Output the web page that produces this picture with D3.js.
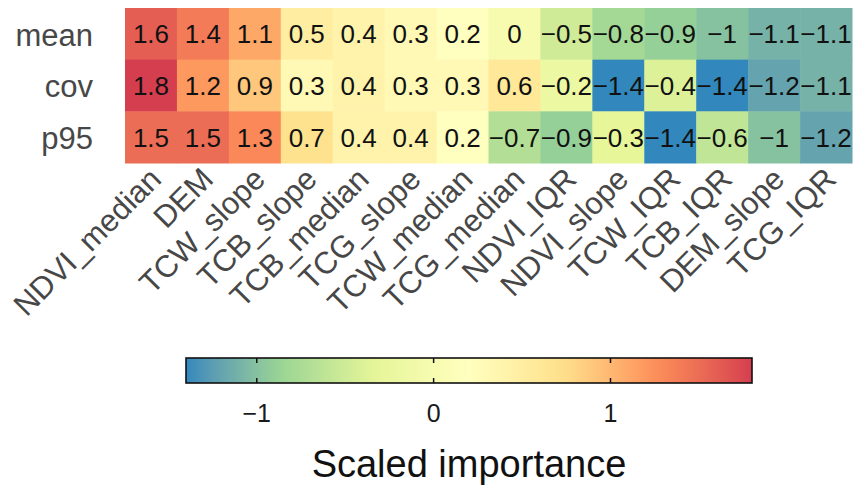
<!DOCTYPE html>
<html>
<head>
<meta charset="utf-8">
<script src="https://cdn.jsdelivr.net/npm/d3@7"></script>
<style>
  body { margin: 0; background: #fff; }
  svg { display: block; font-family: "Liberation Sans", Arial, sans-serif; }
</style>
</head>
<body>
<svg id="chart" width="856" height="486"></svg>
<script>
const features = ["NDVI_median", "DEM", "TCW_slope", "TCB_slope", "TCB_median", "TCG_slope", "TCW_median",
  "TCG_median", "NDVI_IQR", "NDVI_slope", "TCW_IQR", "TCB_IQR", "DEM_slope", "TCG_IQR"];
const stats = ["mean", "cov", "p95"];
const meanValues = [1.6, 1.4, 1.1, 0.5, 0.4, 0.3, 0.2, 0, -0.5, -0.8, -0.9, -1, -1.1, -1.1];
const covValues = [1.8, 1.2, 0.9, 0.3, 0.4, 0.3, 0.3, 0.6, -0.2, -1.4, -0.4, -1.4, -1.2, -1.1];
const p95Values = [1.5, 1.5, 1.3, 0.7, 0.4, 0.4, 0.2, -0.7, -0.9, -0.3, -1.4, -0.6, -1, -1.2];
const colorbarTicks = [-1, 0, 1];
const legendTitle = "Scaled importance";
// Spectral (7 class), low -> high
const palette = ["#3288bd", "#99d594", "#e6f598", "#ffffbf", "#fee08b", "#fc8d59", "#d53e4f"];

const valuesByStat = { mean: meanValues, cov: covValues, p95: p95Values };
const cells = stats.flatMap((s) => features.map((f, i) => ({ stat: s, feature: f, value: valuesByStat[s][i] })));

const svg = d3.select("#chart");
const axisColor = "#474747";

const x = d3.scaleBand().domain(features).range([125, 852]);
const y = d3.scaleBand().domain(stats).range([8, 163]);

const [vmin, vmax] = d3.extent(cells, (d) => d.value);
const color = d3
  .scaleLinear()
  .domain(palette.map((_, i) => vmin + (i * (vmax - vmin)) / (palette.length - 1)))
  .range(palette)
  .interpolate(d3.interpolateLab);

const fmt = (v) => (v < 0 ? "\u2212" : "") + String(Math.abs(v));

// tiles
svg
  .append("g")
  .selectAll("rect")
  .data(cells)
  .join("rect")
  .attr("x", (d) => x(d.feature))
  .attr("y", (d) => y(d.stat))
  .attr("width", x.bandwidth() + 0.5)
  .attr("height", y.bandwidth() + 0.5)
  .attr("fill", (d) => color(d.value));

svg
  .append("g")
  .selectAll("text")
  .data(cells)
  .join("text")
  .attr("x", (d) => x(d.feature) + x.bandwidth() / 2)
  .attr("y", (d) => y(d.stat) + y.bandwidth() / 2)
  .attr("dy", "0.36em")
  .attr("text-anchor", "middle")
  .attr("font-size", 26)
  .attr("fill", "#111")
  .text((d) => fmt(d.value));

// y axis labels
svg
  .append("g")
  .selectAll("text")
  .data(stats)
  .join("text")
  .attr("x", 93)
  .attr("y", (d) => y(d) + y.bandwidth() / 2)
  .attr("dy", "0.38em")
  .attr("text-anchor", "end")
  .attr("font-size", 31)
  .attr("fill", axisColor)
  .text((d) => d);

// x axis labels, rotated 45
svg
  .append("g")
  .selectAll("text")
  .data(features)
  .join("text")
  .attr("transform", (d) => `translate(${x(d) + x.bandwidth() / 2 + 12},181) rotate(-45)`)
  .attr("text-anchor", "end")
  .attr("font-size", 31)
  .attr("fill", axisColor)
  .text((d) => d);

// colorbar
const cb = { x0: 186, x1: 752, y0: 358, y1: 383 };
const cbScale = d3.scaleLinear().domain([vmin, vmax]).range([cb.x0, cb.x1]);

const grad = svg
  .append("defs")
  .append("linearGradient")
  .attr("id", "cbGrad")
  .attr("x1", "0%")
  .attr("x2", "100%")
  .attr("y1", "0%")
  .attr("y2", "0%");
grad
  .selectAll("stop")
  .data(d3.range(0, 41).map((i) => i / 40))
  .join("stop")
  .attr("offset", (t) => `${t * 100}%`)
  .attr("stop-color", (t) => color(vmin + t * (vmax - vmin)));

svg
  .append("rect")
  .attr("x", cb.x0)
  .attr("y", cb.y0)
  .attr("width", cb.x1 - cb.x0)
  .attr("height", cb.y1 - cb.y0)
  .attr("fill", "url(#cbGrad)")
  .attr("stroke", "#111")
  .attr("stroke-width", 1.6);

const tickG = svg.append("g").selectAll("g").data(colorbarTicks).join("g");
tickG
  .append("line")
  .attr("x1", (d) => cbScale(d))
  .attr("x2", (d) => cbScale(d))
  .attr("y1", cb.y0)
  .attr("y2", cb.y0 + 5)
  .attr("stroke", "#111")
  .attr("stroke-width", 1.5);
tickG
  .append("line")
  .attr("x1", (d) => cbScale(d))
  .attr("x2", (d) => cbScale(d))
  .attr("y1", cb.y1 - 5)
  .attr("y2", cb.y1)
  .attr("stroke", "#111")
  .attr("stroke-width", 1.5);
tickG
  .append("text")
  .attr("x", (d) => cbScale(d))
  .attr("y", 422)
  .attr("text-anchor", "middle")
  .attr("font-size", 25)
  .attr("fill", "#1a1a1a")
  .text((d) => fmt(d));

svg
  .append("text")
  .attr("x", (cb.x0 + cb.x1) / 2)
  .attr("y", 477)
  .attr("text-anchor", "middle")
  .attr("font-size", 38)
  .attr("fill", "#111")
  .text(legendTitle);
</script>
</body>
</html>
